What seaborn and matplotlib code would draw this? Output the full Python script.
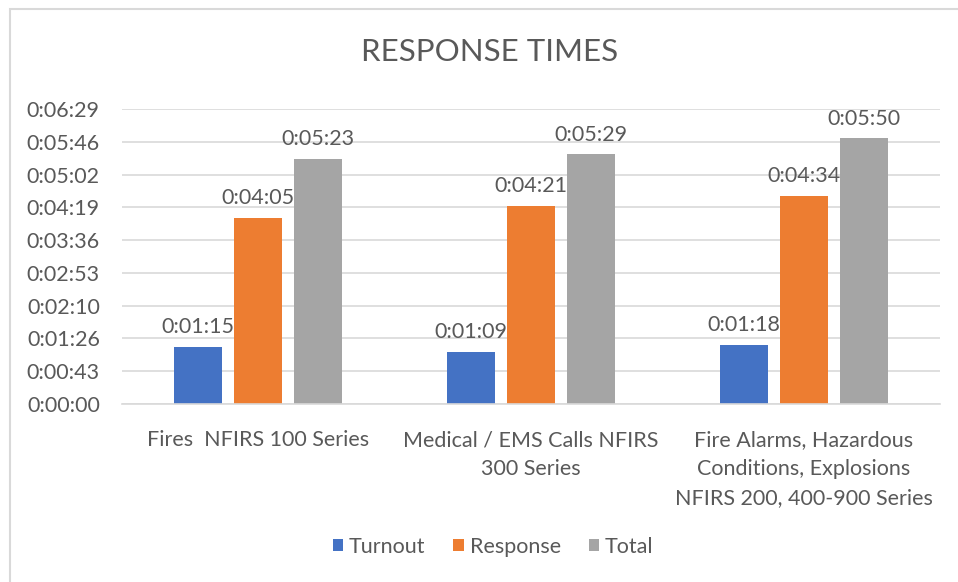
import matplotlib
matplotlib.use("Agg")
import matplotlib.pyplot as plt
import seaborn as sns
import pandas as pd
import numpy as np
from matplotlib.patches import Rectangle

categories = ["Fires  NFIRS 100 Series",
              "Medical / EMS Calls NFIRS\n300 Series",
              "Fire Alarms, Hazardous\nConditions, Explosions\nNFIRS 200, 400-900 Series"]
series = ["Turnout", "Response", "Total"]
turnout = [75, 69, 78]      # seconds
response = [245, 261, 274]
total = [323, 329, 350]
tick_labels = ["0:00:00", "0:00:43", "0:01:26", "0:02:10", "0:02:53",
               "0:03:36", "0:04:19", "0:05:02", "0:05:46", "0:06:29"]
colors = ["#4472C4", "#ED7D31", "#A5A5A5"]

def fmt(s):
    s = int(round(s))
    return f"{s // 3600}:{(s % 3600) // 60:02d}:{s % 60:02d}"

df = pd.DataFrame({
    "Category": categories * 3,
    "Series": [s for s in series for _ in categories],
    "Seconds": turnout + response + total,
})

sns.set_theme(style="white")
plt.rcParams['font.family'] = ['Lato', 'DejaVu Sans']

fig = plt.figure(figsize=(9.58, 5.82), dpi=100)
ax = fig.add_axes([122/958, 1-404/582, (940-122)/958, (404-109)/582])

sns.barplot(data=df, x="Category", y="Seconds", hue="Series", order=categories,
            hue_order=series, palette=colors, width=0.66, gap=0.2,
            saturation=1, ax=ax, legend=True, linewidth=0)

step = 43.2
ax.set_ylim(0, step * 9)
ax.set_yticks([step * i for i in range(10)])
ax.set_yticklabels(tick_labels)
ax.set_xlim(-0.5, 2.5)
ax.grid(axis="y", color="#D9D9D9", linewidth=1.2)
ax.set_axisbelow(True)
for sp in ["top", "right", "left"]:
    ax.spines[sp].set_visible(False)
ax.spines["bottom"].set_color("#D9D9D9")
ax.spines["bottom"].set_linewidth(1.2)
ax.tick_params(axis="both", length=0, labelsize=15.5, labelcolor="#595959")
ax.tick_params(axis="y", pad=16)
ax.tick_params(axis="x", pad=19)
for t in ax.get_xticklabels():
    t.set_linespacing(1.55)
ax.set_xlabel("")
ax.set_ylabel("")

for cont in ax.containers:
    for bar in cont:
        h = bar.get_height()
        ax.annotate(fmt(h), (bar.get_x() + bar.get_width() / 2, h),
                    xytext=(0, 7), textcoords="offset points",
                    ha="center", va="bottom", fontsize=15.5, color="#595959")

leg = ax.legend(loc="center", bbox_to_anchor=(493/958, 1-547/582),
                bbox_transform=fig.transFigure, ncol=3, frameon=False,
                fontsize=15.5, handlelength=0.5, handleheight=0.5,
                handletextpad=0.25, columnspacing=1.3)
for t in leg.get_texts():
    t.set_color("#595959")

fig.text(490/958, 1-52/582, "RESPONSE TIMES", ha="center", va="center",
         fontsize=22.5, color="#595959")

fig.patches.append(Rectangle((10/958, -0.1), 1.2, 1 - 9/582 + 0.1,
                             transform=fig.transFigure, fill=False,
                             edgecolor="#D9D9D9", linewidth=1.5))

fig.savefig("out.png", dpi=100)
